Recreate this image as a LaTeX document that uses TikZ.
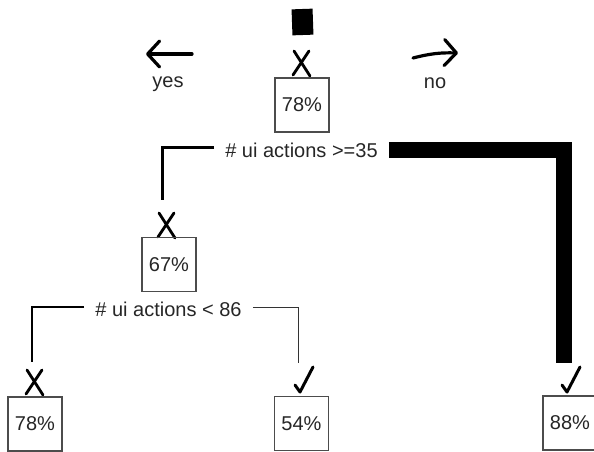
\documentclass[tikz,border=0pt]{standalone}
\usepackage{fontspec}
\setmainfont{Liberation Sans}
\usetikzlibrary{arrows.meta}
\begin{document}
\begin{tikzpicture}[x=1pt,y=-1pt,font=\fontsize{20}{24}\selectfont,
    box/.style={draw=black!70,line width=1.3pt,minimum width=54pt,minimum height=54pt,inner sep=0pt,text=black!85},
    split/.style={inner xsep=11pt,inner ysep=0pt,text=black!85},
    xmark/.style={minimum width=24pt,minimum height=32pt,inner sep=0pt,
        path picture={\draw[line width=2.8pt,line cap=round]
            ([shift={(-8,-12)}]path picture bounding box.center) -- ([shift={(8,13)}]path picture bounding box.center)
            ([shift={(7,-12)}]path picture bounding box.center) -- ([shift={(-9,12)}]path picture bounding box.center);}},
    okmark/.style={minimum width=26pt,minimum height=32pt,inner sep=0pt,
        path picture={\draw[line width=3pt,line cap=round,line join=round]
            ([shift={(-8,5)}]path picture bounding box.center) -- ([shift={(-3,12)}]path picture bounding box.center)
            -- ([shift={(10,-13)}]path picture bounding box.center);}},
    hint/.style={line width=3.2pt,line cap=round,-{Straight Barb[length=12pt,width=26pt,line width=3.2pt,round]}}]
    \useasboundingbox (0,0) rectangle (594,451);
    % legend
    \node [text=black!85] (yes) at (168,84) {yes};
    \node [text=black!85] (no) at (435,83) {no};
    \coordinate (yesA) at (192,54);
    \coordinate (yesB) at (146,54);
    \coordinate (noA) at (413,58);
    \coordinate (noB) at (458,53);
    \draw [hint] (yesA) -- (yesB);
    \draw [hint] (noA) to[bend left=8] (noB);
    % root
    \node [fill=black,minimum width=21pt,minimum height=26pt,inner sep=0pt,rotate=2] (inc) at (302.5,22) {};
    \node [xmark] (x0) at (302,63) {};
    \node [box] (r) at (302,105) {78\%};
    \node [split] (s1) at (301.5,150) {\# ui actions >=35};
    % left child
    \node [xmark] (x1) at (167,225) {};
    \node [box] (n67) at (169,264.5) {67\%};
    \node [split] (s2) at (168.5,309) {\# ui actions < 86};
    % leaves
    \node [xmark] (x2) at (35,382) {};
    \node [box] (l78) at (35,424) {78\%};
    \node [okmark] (k1) at (303,380) {};
    \node [box] (l54) at (301.5,423.5) {54\%};
    \node [okmark] (k2) at (570,380) {};
    \node [box] (l88) at (570,423) {88\%};
    % branches
    \coordinate (c1) at (162,200);
    \coordinate (c2) at (564,363);
    \coordinate (c3) at (32,362);
    \coordinate (c4) at (298,363);
    \draw [line width=3pt] ([yshift=2.5pt]s1.west) -| (c1);
    \draw [line width=16pt] (s1.east) -| (c2);
    \draw [line width=2pt] ([yshift=2pt]s2.west) -| (c3);
    \draw [line width=1pt,black!80] ([yshift=2pt]s2.east) -| (c4);
\end{tikzpicture}
\end{document}
